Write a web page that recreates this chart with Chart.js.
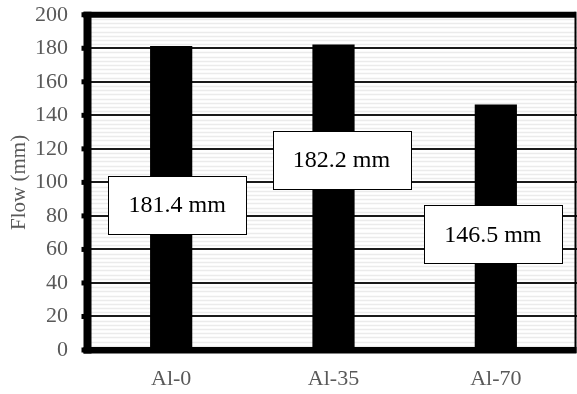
<!DOCTYPE html>
<html>
<head>
<meta charset="utf-8">
<script src="https://cdn.jsdelivr.net/npm/chart.js@4.4.1/dist/chart.umd.min.js"></script>
<style>
  html, body { margin: 0; padding: 0; background: #ffffff; }
  #wrap { width: 577px; height: 394px; }
</style>
</head>
<body>
<div id="wrap"><canvas id="c" width="577" height="394"></canvas></div>
<script>
// Mix designs and their measured flow
const categories = ['Al-0', 'Al-35', 'Al-70'];
const flowValues = [181.4, 182.2, 146.5];
const valueLabels = ['181.4 mm', '182.2 mm', '146.5 mm'];
const yTicks = [0, 20, 40, 60, 80, 100, 120, 140, 160, 180, 200];

const SERIF = '"Liberation Serif", "Times New Roman", serif';
const GREY = '#595959';

// Light horizontal hatching behind the bars
const hatchPlugin = {
  id: 'hatch',
  beforeDatasetsDraw(chart) {
    const { ctx, chartArea: a, scales: { y } } = chart;
    ctx.save();
    ctx.strokeStyle = '#ebebeb';
    ctx.lineWidth = 1.6;
    for (let v = 0; v <= 200; v += 2.5) {
      if (v % 20 === 0) continue;
      const py = Math.round(y.getPixelForValue(v)) + 0.5;
      ctx.beginPath();
      ctx.moveTo(a.left, py);
      ctx.lineTo(a.right, py);
      ctx.stroke();
    }
    ctx.restore();
  }
};

// Major grid lines under the bars, above the hatching
const majorGridPlugin = {
  id: 'majorGrid',
  beforeDatasetsDraw(chart) {
    const { ctx, chartArea: a, scales: { y } } = chart;
    ctx.save();
    ctx.strokeStyle = '#1a1a1a';
    ctx.lineWidth = 2;
    yTicks.forEach(v => {
      if (v === 0 || v === 200) return;
      const py = Math.round(y.getPixelForValue(v));
      ctx.beginPath();
      ctx.moveTo(a.left, py);
      ctx.lineTo(a.right, py);
      ctx.stroke();
    });
    ctx.restore();
  }
};

// Heavy plot frame: thick left, top and bottom, thin right edge
const framePlugin = {
  id: 'frame',
  afterDatasetsDraw(chart) {
    const { ctx, scales: { y } } = chart;
    const top = y.getPixelForValue(200);
    const bottom = y.getPixelForValue(0);
    const left = 87.5, right = 575.5;
    ctx.save();
    ctx.fillStyle = '#000';
    ctx.fillRect(left - 4, top - 3, right - left + 4, 6);       // top
    ctx.fillRect(left - 4, bottom - 3, right - left + 5, 6.5);  // bottom
    ctx.fillRect(left - 4, top - 3, 8, bottom - top + 6.5);     // left
    ctx.fillRect(right - 1, top - 3, 2, bottom - top + 6);      // right
    // tick stubs on the left edge
    yTicks.forEach(v => {
      const py = y.getPixelForValue(v);
      ctx.fillRect(left - 6, py - 2.5, 4, 5);
    });
    ctx.restore();
  }
};

// Boxed value callouts
const calloutPlugin = {
  id: 'callouts',
  afterDatasetsDraw(chart, args, opts) {
    const { ctx, scales: { x, y } } = chart;
    ctx.save();
    ctx.font = '24px ' + SERIF;
    ctx.textAlign = 'center';
    ctx.textBaseline = 'middle';
    valueLabels.forEach((txt, i) => {
      const cx = x.getPixelForValue(i) + opts.offsetX[i];
      const cy = y.getPixelForValue(opts.atValue[i]);
      const w = opts.width, h = opts.height;
      const bx = Math.round(cx - w / 2) + 0.5, by = Math.round(cy - h / 2) + 0.5;
      ctx.fillStyle = '#fff';
      ctx.fillRect(bx, by, w, h);
      ctx.strokeStyle = '#000';
      ctx.lineWidth = 1;
      ctx.strokeRect(bx, by, w, h);
      ctx.fillStyle = '#000';
      ctx.fillText(txt, cx, cy + 1);
    });
    ctx.restore();
  }
};

new Chart(document.getElementById('c'), {
  type: 'bar',
  data: {
    labels: categories,
    datasets: [{
      data: flowValues,
      backgroundColor: '#000',
      borderWidth: 0,
      barPercentage: 0.26,
      categoryPercentage: 1
    }]
  },
  options: {
    responsive: false,
    animation: false,
    layout: { padding: { top: 0, right: 0, bottom: 0, left: 0 } },
    plugins: {
      legend: { display: false },
      tooltip: { enabled: false },
      callouts: { offsetX: [6, 8, -3], atValue: [86.6, 113.4, 69], width: 138, height: 58 }
    },
    scales: {
      x: {
        grid: { display: false, drawTicks: false },
        border: { display: false },
        ticks: { color: GREY, font: { family: SERIF, size: 22 }, padding: 16 },
        afterFit(s) { s.height = 44; }
      },
      y: {
        min: 0,
        max: 200,
        afterBuildTicks(s) { s.ticks = yTicks.map(v => ({ value: v })); },
        // tick marks are painted by the frame plugin; this length only offsets the labels
        grid: { display: false, drawTicks: true, tickLength: 21 },
        border: { display: false },
        ticks: { color: GREY, font: { family: SERIF, size: 22, lineHeight: 1.25 }, padding: 1 },
        title: {
          display: true,
          text: 'Flow (mm)',
          color: GREY,
          font: { family: SERIF, size: 21 },
          padding: { top: 7, bottom: 0 }
        },
        afterFit(s) { s.width = 90; }
      }
    }
  },
  plugins: [hatchPlugin, majorGridPlugin, framePlugin, calloutPlugin]
});
</script>
</body>
</html>
